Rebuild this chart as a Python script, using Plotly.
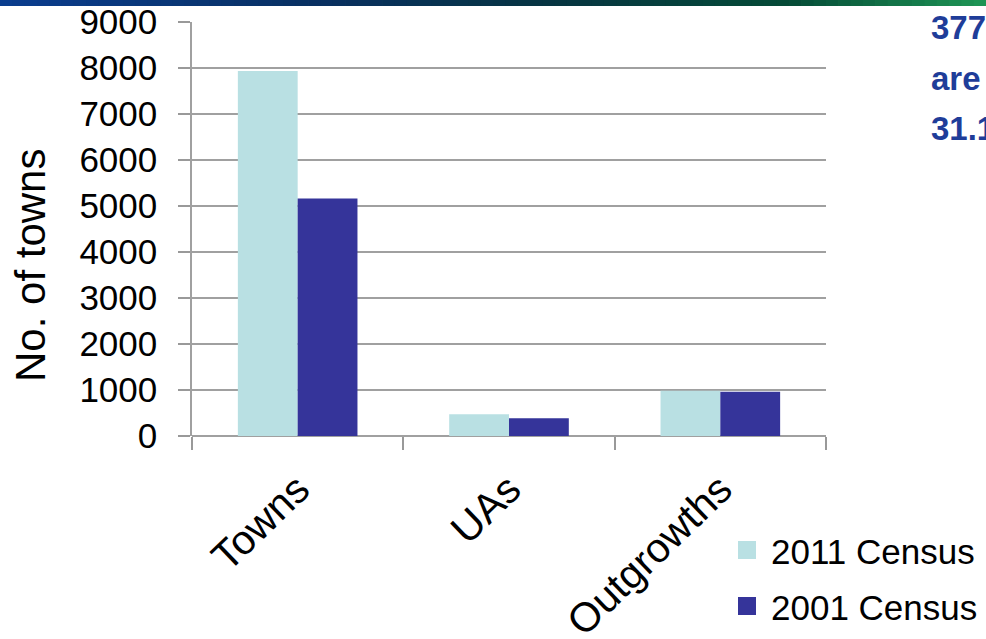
import plotly.graph_objects as go

categories = ["Towns", "UAs", "Outgrowths"]
census_2011 = [7935, 475, 981]
census_2001 = [5161, 384, 962]
series_names = ["2011 Census", "2001 Census"]
series_colors = ["#b9e0e3", "#35349a"]
y_ticks = list(range(0, 9001, 1000))
y_title = "No. of towns"
side_text = ["377 million", "are urban", "31.16%"]

FONT = "Liberation Sans, Arial, sans-serif"
PW, PH, L, T = 634, 414, 192, 22

def px(x):
    return (x - L) / PW

def py(y):
    return (T + PH - y) / PH

fig = go.Figure()
for name, vals, col in zip(series_names, [census_2011, census_2001], series_colors):
    fig.add_trace(go.Bar(x=categories, y=vals, name=name, showlegend=False,
                         marker=dict(color=col, line=dict(width=0))))

# top gradient banner (stepped)
stops = [(0.0, (10, 61, 143)), (0.33, (8, 48, 96)), (0.55, (6, 52, 66)), (0.8, (5, 75, 55)), (1.0, (30, 150, 85))]
def interp(t):
    for (t0, c0), (t1, c1) in zip(stops[:-1], stops[1:]):
        if t0 <= t <= t1:
            f = (t - t0) / (t1 - t0)
            return tuple(int(round(a + (b - a) * f)) for a, b in zip(c0, c1))
    return stops[-1][1]
N = 80
shapes = []
for i in range(N):
    c = interp((i + 0.5) / N)
    shapes.append(dict(type="rect", xref="paper", yref="paper",
                       x0=px(i * 986 / N), x1=px((i + 1) * 986 / N + 0.8),
                       y0=py(6), y1=py(-1), fillcolor="rgb(%d,%d,%d)" % c, line=dict(width=0), layer="above"))

annotations = []
for i, t in enumerate(side_text):
    annotations.append(dict(xref="paper", yref="paper", x=px(929), y=py(28 + i * 50),
                            text="<b>%s</b>" % t, showarrow=False, xanchor="left", yanchor="middle",
                            font=dict(family=FONT, size=33, color="#1f3d99")))

# y axis title
annotations.append(dict(xref="paper", yref="paper", x=px(30), y=py(266), text=y_title, textangle=-90,
                        showarrow=False, xanchor="center", yanchor="middle",
                        font=dict(family=FONT, size=42, color="black")))

# manual legend
for i, (name, col) in enumerate(zip(series_names, series_colors)):
    yc = 550 + i * 56
    shapes.append(dict(type="rect", xref="paper", yref="paper", x0=px(738), x1=px(756),
                       y0=py(yc + 9), y1=py(yc - 9), fillcolor=col, line=dict(width=0)))
    annotations.append(dict(xref="paper", yref="paper", x=px(769), y=py(yc + 1), text=name,
                            showarrow=False, xanchor="left", yanchor="middle",
                            font=dict(family=FONT, size=35, color="black")))

fig.update_layout(
    width=986, height=639,
    margin=dict(l=L, r=986 - L - PW, t=T, b=639 - T - PH),
    paper_bgcolor="white", plot_bgcolor="white",
    barmode="group", bargap=0.434, bargroupgap=0,
    font=dict(family=FONT, color="black"),
    showlegend=False,
    shapes=shapes,
    annotations=annotations,
    xaxis=dict(tickangle=-44, tickfont=dict(size=41), ticks="outside", tickson="boundaries",
               ticklen=13, tickcolor="#999999", tickwidth=1.5, showline=False, showgrid=False,
               automargin=False, ticklabelstandoff=20),
    yaxis=dict(range=[0, 9000], tickvals=y_ticks, tickfont=dict(size=35), ticks="outside", ticklen=12,
               tickcolor="#999999", tickwidth=1.5, showgrid=True, gridcolor="#a0a0a0", gridwidth=1.5,
               showline=True, linecolor="#a0a0a0", linewidth=1.5, zeroline=True, zerolinecolor="#a0a0a0",
               zerolinewidth=1.5, automargin=False, ticklabelstandoff=14),
)

fig.write_html("out.html", config={"displayModeBar": False},
               post_script="document.body.style.margin='0';document.body.style.overflow='hidden';")
